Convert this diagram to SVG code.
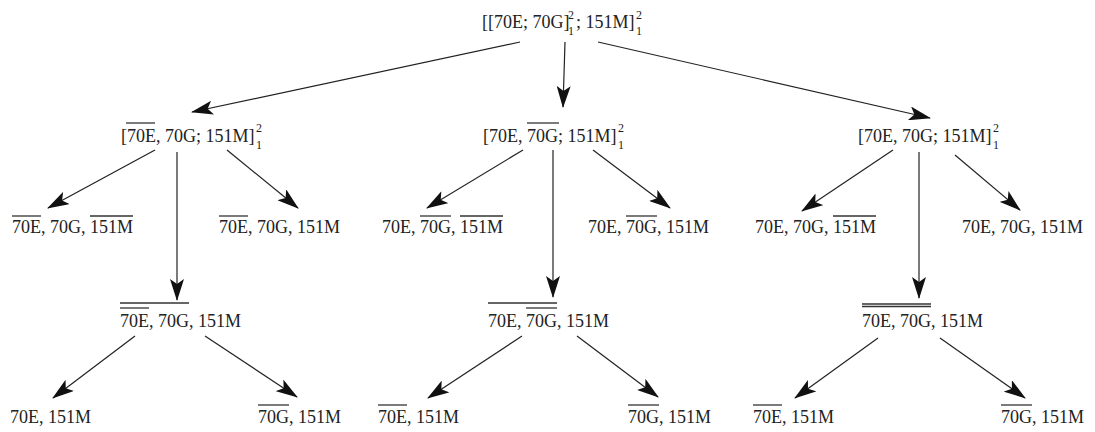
<svg xmlns="http://www.w3.org/2000/svg" width="1095" height="432" viewBox="0 0 1095 432">
  <style>
    text { font-family: "Liberation Serif", "Times New Roman", serif; font-size: 18px; fill: #222; }
    text.s { font-size: 12px; }
    .ov { stroke: #333; stroke-width: 1.3; }
    .edge { stroke: #222; stroke-width: 1.2; fill: none; marker-end: url(#head); }
  </style>
  <defs>
    <marker id="head" viewBox="0 0 22 14" refX="21" refY="7" markerWidth="22" markerHeight="14" markerUnits="userSpaceOnUse" orient="auto">
      <path d="M0,0 L22,7 L0,14 L5,7 z" fill="#111"/>
    </marker>
  </defs>
  <rect width="1095" height="432" fill="#fff"/>

  <g id="edges">
    <line class="edge" x1="520" y1="42" x2="192" y2="112"/>
    <line class="edge" x1="565" y1="42" x2="563" y2="107"/>
    <line class="edge" x1="598" y1="42" x2="930" y2="118"/>

    <line class="edge" x1="155" y1="150" x2="48" y2="208"/>
    <line class="edge" x1="177" y1="152" x2="177" y2="300"/>
    <line class="edge" x1="227" y1="150" x2="298" y2="208"/>

    <line class="edge" x1="523" y1="150" x2="427" y2="208"/>
    <line class="edge" x1="553" y1="150" x2="553" y2="297"/>
    <line class="edge" x1="593" y1="150" x2="670" y2="208"/>

    <line class="edge" x1="893" y1="150" x2="802" y2="211"/>
    <line class="edge" x1="919" y1="152" x2="919" y2="298"/>
    <line class="edge" x1="955" y1="155" x2="1020" y2="210"/>

    <line class="edge" x1="135" y1="336" x2="53" y2="398"/>
    <line class="edge" x1="205" y1="336" x2="297" y2="397"/>
    <line class="edge" x1="522" y1="336" x2="428" y2="398"/>
    <line class="edge" x1="577" y1="336" x2="658" y2="397"/>
    <line class="edge" x1="878" y1="338" x2="795" y2="398"/>
    <line class="edge" x1="940" y1="338" x2="1025" y2="398"/>
  </g>

  <!-- root -->
  <g id="root">
    <text x="482" y="28">[[70E; 70G]</text>
    <text class="s" x="568" y="19">2</text>
    <text class="s" x="568" y="35">1</text>
    <text x="576" y="28">; 151M]</text>
    <text class="s" x="636" y="19">2</text>
    <text class="s" x="636" y="35">1</text>
  </g>

  <!-- second level -->
  <g id="n-left">
    <text x="121" y="142">[70E, 70G; 151M]</text>
    <text class="s" x="256" y="132">2</text>
    <text class="s" x="256" y="149">1</text>
    <line class="ov" x1="126" y1="123" x2="155" y2="123"/>
  </g>
  <g id="n-mid">
    <text x="483" y="142">[70E, 70G; 151M]</text>
    <text class="s" x="618" y="132">2</text>
    <text class="s" x="618" y="149">1</text>
    <line class="ov" x1="527" y1="123" x2="559" y2="123"/>
  </g>
  <g id="n-right">
    <text x="858" y="142">[70E, 70G; 151M]</text>
    <text class="s" x="993" y="132">2</text>
    <text class="s" x="993" y="149">1</text>
  </g>

  <!-- third level leaves -->
  <g id="leaf-l1">
    <text x="12" y="233">70E, 70G, 151M</text>
    <line class="ov" x1="12" y1="216" x2="41" y2="216"/>
    <line class="ov" x1="90" y1="216" x2="133" y2="216"/>
  </g>
  <g id="leaf-l2">
    <text x="219" y="233">70E, 70G, 151M</text>
    <line class="ov" x1="219" y1="216" x2="248" y2="216"/>
  </g>
  <g id="leaf-m1">
    <text x="382" y="233">70E, 70G, 151M</text>
    <line class="ov" x1="420" y1="216" x2="451" y2="216"/>
    <line class="ov" x1="460" y1="216" x2="503" y2="216"/>
  </g>
  <g id="leaf-m2">
    <text x="588" y="233">70E, 70G, 151M</text>
    <line class="ov" x1="626" y1="216" x2="657" y2="216"/>
  </g>
  <g id="leaf-r1">
    <text x="755" y="233">70E, 70G, 151M</text>
    <line class="ov" x1="833" y1="216" x2="876" y2="216"/>
  </g>
  <g id="leaf-r2">
    <text x="962" y="233">70E, 70G, 151M</text>
  </g>

  <!-- third level inner nodes -->
  <g id="n-left-down">
    <text x="120" y="327">70E, 70G, 151M</text>
    <line class="ov" x1="120" y1="303" x2="189" y2="303"/>
    <line class="ov" x1="120" y1="308" x2="149" y2="308"/>
  </g>
  <g id="n-mid-down">
    <text x="488" y="327">70E, 70G, 151M</text>
    <line class="ov" x1="488" y1="303" x2="557" y2="303"/>
    <line class="ov" x1="526" y1="308" x2="557" y2="308"/>
  </g>
  <g id="n-right-down">
    <text x="862" y="327">70E, 70G, 151M</text>
    <line class="ov" x1="862" y1="304" x2="931" y2="304"/>
    <line class="ov" x1="862" y1="306.5" x2="931" y2="306.5"/>
  </g>

  <!-- bottom leaves -->
  <g id="leaf-ll1">
    <text x="10" y="423">70E, 151M</text>
  </g>
  <g id="leaf-ll2">
    <text x="258" y="423">70G, 151M</text>
    <line class="ov" x1="258" y1="405" x2="289" y2="405"/>
  </g>
  <g id="leaf-mm1">
    <text x="378" y="423">70E, 151M</text>
    <line class="ov" x1="378" y1="405" x2="407" y2="405"/>
  </g>
  <g id="leaf-mm2">
    <text x="628" y="423">70G, 151M</text>
    <line class="ov" x1="628" y1="405" x2="659" y2="405"/>
  </g>
  <g id="leaf-rr1">
    <text x="753" y="423">70E, 151M</text>
    <line class="ov" x1="753" y1="405" x2="782" y2="405"/>
  </g>
  <g id="leaf-rr2">
    <text x="1001" y="423">70G, 151M</text>
    <line class="ov" x1="1001" y1="405" x2="1032" y2="405"/>
  </g>
</svg>
